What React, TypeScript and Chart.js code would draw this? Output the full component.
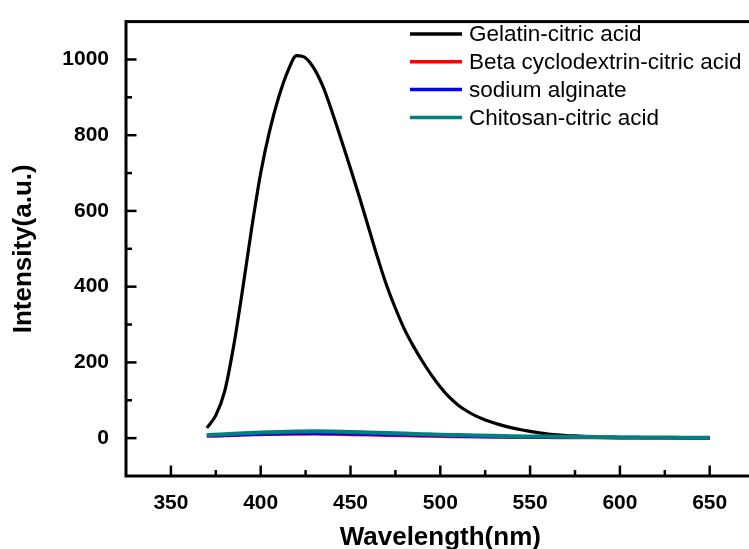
import React, { useEffect, useRef } from "react";
import { Chart, registerables } from "chart.js";

Chart.register(...registerables);

// Wavelength grid (nm) for the gelatin curve
const wavelengths = [
  370, 375, 380, 385, 390, 395, 400, 405, 410, 415, 420, 425, 430, 435, 440, 445, 450, 455, 460,
  465, 470, 475, 480, 485, 490, 495, 500, 505, 510, 515, 520, 525, 530, 535, 540, 545, 550, 555,
  560, 565, 570, 575, 580, 585, 590, 595, 600, 605, 610, 615, 620, 625, 630, 635, 640, 645, 650,
];
const gelatin = [
  27, 60, 125, 245, 395, 555, 700, 812, 900, 968, 1010, 1004, 974, 925, 858, 786, 712, 636, 557,
  478, 405, 343, 288, 243, 203, 167, 135, 108, 87, 71, 58, 48, 40, 33, 27, 22, 18, 14,
  11, 9, 7, 6, 5, 4, 3, 3, 2, 2, 2, 1, 1, 1, 1, 1, 0, 0, 0,
];

// Wavelength grid (nm) for the weak emitters
const sparseWavelengths = [
  370, 380, 390, 400, 410, 420, 430, 440, 450, 460, 470, 480, 490, 500, 510, 520, 530, 540, 550,
  560, 570, 580, 590, 600, 610, 620, 630, 640, 650,
];
const betaCyclodextrin = [
  5, 6, 8, 9, 10, 10, 11, 10, 9, 8, 7, 6, 5, 4, 3.5, 3, 2.5, 2, 2,
  1.5, 1, 1, 1, 0.5, 0.5, 0.5, 0.5, 0.5, 0.5,
];
const sodiumAlginate = [
  6, 7, 9, 10.5, 11, 12, 12, 11.5, 11, 10, 9, 8, 7, 6, 5, 4, 3.5, 3, 2.5,
  2, 2, 1.5, 1.5, 1, 1, 1, 0.5, 0.5, 0.5,
];
const chitosan = [
  8, 10, 13, 15, 16.5, 17.5, 18, 17.5, 16.5, 15, 13.5, 12, 10.5, 9, 8, 7, 6, 5, 4.5,
  4, 3.5, 3, 2.5, 2, 2, 1.5, 1.5, 1, 1,
];

const seriesLabels = [
  "Gelatin-citric acid",
  "Beta cyclodextrin-citric acid",
  "sodium alginate",
  "Chitosan-citric acid",
];
const seriesColors = ["#000000", "#ff0000", "#0000ff", "#008080"];

const xTicks = [350, 400, 450, 500, 550, 600, 650];
const xMinorTicks = [375, 425, 475, 525, 575, 625];
const yTicks = [0, 200, 400, 600, 800, 1000];
const yMinorTicks = [100, 300, 500, 700, 900];

const FONT = "'Liberation Sans', Arial, Helvetica, sans-serif";

const toPoints = (xs: number[], ys: number[]) => xs.map((x, i) => ({ x, y: ys[i] }));

const framePlugin = {
  id: "originFrame",
  afterDraw(chart: any) {
    const { ctx, chartArea: a, scales } = chart;
    const xs = scales.x;
    const ys = scales.y;
    ctx.save();
    ctx.strokeStyle = "#000";
    ctx.lineWidth = 3;
    ctx.lineCap = "butt";
    ctx.strokeRect(a.left, a.top, a.right - a.left, a.bottom - a.top);
    ctx.lineWidth = 2.5;
    const tick = (x1: number, y1: number, x2: number, y2: number) => {
      ctx.beginPath();
      ctx.moveTo(x1, y1);
      ctx.lineTo(x2, y2);
      ctx.stroke();
    };
    xTicks.forEach((v) => {
      const p = xs.getPixelForValue(v);
      tick(p, a.bottom, p, a.bottom - 10.5);
    });
    xMinorTicks.forEach((v) => {
      const p = xs.getPixelForValue(v);
      tick(p, a.bottom, p, a.bottom - 6);
    });
    yTicks.forEach((v) => {
      const p = ys.getPixelForValue(v);
      tick(a.left, p, a.left + 10.5, p);
    });
    yMinorTicks.forEach((v) => {
      const p = ys.getPixelForValue(v);
      tick(a.left, p, a.left + 6, p);
    });
    ctx.restore();
  },
};

const legendPlugin = {
  id: "insideLegend",
  afterDraw(chart: any) {
    const { ctx } = chart;
    ctx.save();
    ctx.font = `22.5px ${FONT}`;
    ctx.textBaseline = "middle";
    ctx.textAlign = "left";
    chart.data.datasets.forEach((ds: any, i: number) => {
      const y = 34 + i * 27.8;
      ctx.strokeStyle = ds.borderColor;
      ctx.lineWidth = 3.5;
      ctx.beginPath();
      ctx.moveTo(410, y);
      ctx.lineTo(462, y);
      ctx.stroke();
      ctx.fillStyle = "#000";
      ctx.fillText(ds.label, 469, y + 1);
    });
    ctx.restore();
  },
};

export default function App() {
  const ref = useRef<HTMLCanvasElement>(null);

  useEffect(() => {
    const canvas = ref.current;
    if (!canvas) return;
    const seriesData = [
      toPoints(wavelengths, gelatin),
      toPoints(sparseWavelengths, betaCyclodextrin),
      toPoints(sparseWavelengths, sodiumAlginate),
      toPoints(sparseWavelengths, chitosan),
    ];
    const widths = [3.2, 3, 3, 4];
    const orders = [3, 2, 1, 0];
    const chart = new Chart(canvas, {
      type: "line",
      data: {
        datasets: seriesData.map((d, i) => ({
          label: seriesLabels[i],
          data: d,
          borderColor: seriesColors[i],
          backgroundColor: seriesColors[i],
          borderWidth: widths[i],
          pointRadius: 0,
          cubicInterpolationMode: "monotone" as const,
          fill: false,
          order: orders[i],
        })),
      },
      options: {
        responsive: false,
        animation: false,
        devicePixelRatio: 1,
        layout: { padding: { left: 0, top: 13, right: 15.4, bottom: 0 } },
        plugins: {
          legend: { display: false },
          tooltip: { enabled: false },
        },
        scales: {
          x: {
            type: "linear",
            min: 325,
            max: 675,
            afterBuildTicks: (s: any) => {
              s.ticks = xTicks.map((v) => ({ value: v }));
            },
            afterFit: (s: any) => {
              s.height = 84;
            },
            grid: { display: false },
            border: { display: false },
            ticks: {
              color: "#000",
              padding: 7,
              maxRotation: 0,
              autoSkip: false,
              font: { family: FONT, size: 21, weight: "bold" },
              callback: (v: any) => String(v),
            },
            title: {
              display: true,
              text: "Wavelength(nm)",
              color: "#000",
              font: { family: FONT, size: 26, weight: "bold" },
              padding: { top: 0, bottom: 6.5 },
            },
          },
          y: {
            type: "linear",
            min: -100,
            max: 1100,
            afterBuildTicks: (s: any) => {
              s.ticks = yTicks.map((v) => ({ value: v }));
            },
            afterFit: (s: any) => {
              s.width = 126;
            },
            grid: { display: false },
            border: { display: false },
            ticks: {
              color: "#000",
              padding: 9,
              autoSkip: false,
              font: { family: FONT, size: 21, weight: "bold" },
              callback: (v: any) => String(v),
            },
            title: {
              display: true,
              text: "Intensity(a.u.)",
              color: "#000",
              font: { family: FONT, size: 26, weight: "bold" },
              padding: { top: 8, bottom: 0 },
            },
          },
        },
      },
      plugins: [framePlugin, legendPlugin],
    });
    return () => chart.destroy();
  }, []);

  return (
    <div
      style={{
        position: "fixed",
        left: 0,
        top: 0,
        width: 749,
        height: 549,
        overflow: "hidden",
        background: "#fff",
      }}
    >
      <canvas ref={ref} width={770} height={560} style={{ display: "block" }} />
    </div>
  );
}
